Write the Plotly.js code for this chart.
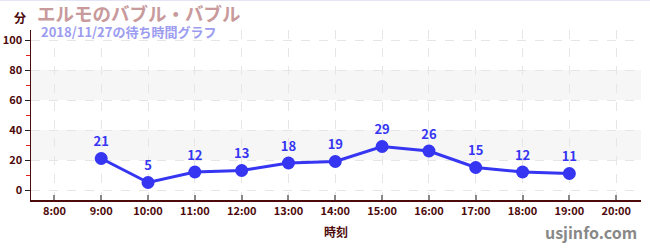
<!DOCTYPE html>
<html>
<head>
<meta charset="utf-8">
<script src="https://cdn.plot.ly/plotly-3.0.1.min.js"></script>
<style>
html,body{margin:0;padding:0;background:#fff;}
#chart{width:650px;height:250px;}
#topline{position:absolute;left:0;top:0;width:650px;height:1px;background:#e4e4f6;}
</style>
</head>
<body>
<div id="chart"></div>
<div id="topline"></div>
<script>
const hours = [9, 10, 11, 12, 13, 14, 15, 16, 17, 18, 19];
const waits = [21, 5, 12, 13, 18, 19, 29, 26, 15, 12, 11];
const tickHours = [8, 9, 10, 11, 12, 13, 14, 15, 16, 17, 18, 19, 20];
const tickLabels = ["8:00","9:00","10:00","11:00","12:00","13:00","14:00","15:00","16:00","17:00","18:00","19:00","20:00"];
const yTicks = [0, 20, 40, 60, 80, 100];
const bands = [[20, 40], [60, 80]];

const FONT = '"Noto Sans CJK JP", "Noto Sans", sans-serif';
const BLUE = '#3535f2';
const MAROON = '#4d0a0a';

const trace = {
  x: hours, y: waits, type: 'scatter', mode: 'lines+markers+text',
  text: waits.map(String), textposition: 'top center',
  textfont: {family: FONT, size: 13, color: BLUE, weight: 'bold'},
  line: {color: BLUE, width: 3},
  marker: {color: BLUE, size: 13},
  hoverinfo: 'none', cliponaxis: false
};

const shapes = bands.map(b => ({
  type: 'rect', xref: 'paper', yref: 'y', x0: 0, x1: 1, y0: b[0], y1: b[1],
  fillcolor: '#f6f6f6', line: {width: 0}, layer: 'below'
}));

const layout = {
  width: 650, height: 250,
  margin: {l: 31, r: 9, t: 30, b: 50},
  paper_bgcolor: '#fff', plot_bgcolor: '#fff',
  showlegend: false,
  font: {family: FONT, color: MAROON},
  shapes: shapes,
  xaxis: {
    range: [7.5, 20.53], tickvals: tickHours, ticktext: tickLabels,
    showgrid: true, gridcolor: '#e6e6e6', griddash: 'dash', gridwidth: 1,
    zeroline: false, showline: true, linecolor: MAROON, linewidth: 1.5,
    ticks: 'inside', ticklen: 5, tickcolor: '#888', tickwidth: 2,
    tickfont: {family: FONT, size: 11, color: MAROON, weight: 'bold'},
    fixedrange: true,
    title: {text: '時刻', font: {family: FONT, size: 12, color: MAROON, weight: 'bold'}, standoff: 12}
  },
  yaxis: {
    range: [-6.67, 106.67], tickvals: yTicks,
    showgrid: true, gridcolor: '#e6e6e6', griddash: 'dash', gridwidth: 1,
    zeroline: false, showline: true, linecolor: MAROON, linewidth: 1.5,
    ticks: 'outside', ticklen: 5, tickcolor: '#222', tickwidth: 1,
    tickfont: {family: FONT, size: 11, color: MAROON, weight: 'bold'},
    minor: {dtick: 10, tick0: 0, ticks: 'outside', ticklen: 4, tickcolor: '#e02020', showgrid: false},
    fixedrange: true
  },
  annotations: [
    {text: '分', xref: 'paper', yref: 'paper', x: -0.005, y: 1.075, xanchor: 'right', yanchor: 'middle',
     showarrow: false, font: {family: FONT, size: 12, color: MAROON, weight: 'bold'}},
    {text: 'エルモのバブル・バブル', xref: 'paper', yref: 'paper', x: 0.006, y: 1.1, xanchor: 'left', yanchor: 'middle',
     showarrow: false, font: {family: FONT, size: 18.5, color: '#c89a9c', weight: 'bold'}},
    {text: '2018/11/27の待ち時間グラフ', xref: 'paper', yref: 'paper', x: 0.013, y: 0.99, xanchor: 'left', yanchor: 'middle',
     showarrow: false, font: {family: FONT, size: 13, color: '#9c9cf0', weight: 'bold'}},
    {text: 'usjinfo.com', xref: 'paper', yref: 'paper', x: 0.996, y: -0.19, xanchor: 'right', yanchor: 'middle',
     showarrow: false, font: {family: FONT, size: 16, color: '#888', weight: 'bold'}}
  ]
};

Plotly.newPlot('chart', [trace], layout, {displayModeBar: false, staticPlot: true});
</script>
</body>
</html>
